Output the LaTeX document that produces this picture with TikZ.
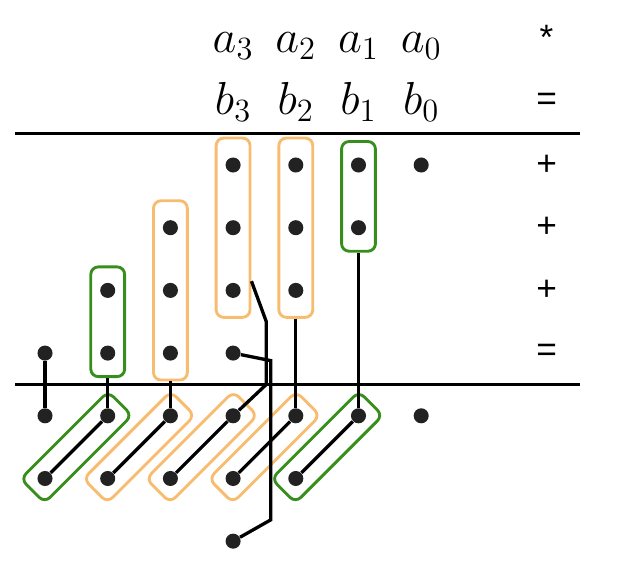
\RequirePackage{fix-cm}
\documentclass[tikz,border=0pt]{standalone}
\usepackage{amsmath}
\usepackage{amssymb}
\usepackage{fontspec}
\usepackage{tikz}

\newfontfamily\opfont{Liberation Sans}
\definecolor{boxgreen}{RGB}{56,142,28}
\definecolor{boxorange}{RGB}{248,188,112}
\definecolor{dotgray}{RGB}{34,34,34}

\begin{document}
\begin{tikzpicture}[
    dot/.style={circle,fill=dotgray,inner sep=0pt,minimum size=0.24cm},
    grp/.style={draw,rounded corners=0.12cm,line width=1.3pt,minimum width=0.54cm,inner sep=0pt},
    ogrp/.style={grp,draw=boxorange},
    ggrp/.style={grp,draw=boxgreen},
    digit/.style={font=\fontsize{21}{25}\selectfont,anchor=base,inner sep=0pt},
    op/.style={font=\opfont\fontsize{16}{18}\selectfont,inner sep=0pt},
    wire/.style={line width=1.5pt}]
    \useasboundingbox (-0.718,-6.316) rectangle (9.187,2.632);
    % operands and operators
    \node[digit] (a3) at (3,1.79) {$a_3$};
    \node[digit] (a2) at (4,1.79) {$a_2$};
    \node[digit] (a1) at (5,1.79) {$a_1$};
    \node[digit] (a0) at (6,1.79) {$a_0$};
    \node[digit] (b3) at (3,0.8) {$b_3$};
    \node[digit] (b2) at (4,0.8) {$b_2$};
    \node[digit] (b1) at (5,0.8) {$b_1$};
    \node[digit] (b0) at (6,0.8) {$b_0$};
    \node[op,anchor=base] (times) at (8,1.84) {*};
    \node[op] (eqtop) at (8,1) {=};
    \node[op] (plus0) at (8,0) {+};
    \node[op] (plus1) at (8,-1) {+};
    \node[op] (plus2) at (8,-2) {+};
    \node[op] (eqbot) at (8,-3) {=};
    \draw[wire] (-0.48,0.5) -- (8.53,0.5);
    \draw[wire] (-0.48,-3.5) -- (8.53,-3.5);
    % groups
    \node[ogrp,minimum height=2.86cm] (box3) at (3,-1) {};
    \node[ogrp,minimum height=2.86cm] (box4) at (4,-1) {};
    \node[ggrp,minimum height=1.75cm] (box5) at (5,-0.5) {};
    \node[ogrp,minimum height=2.86cm] (box2) at (2,-2) {};
    \node[ggrp,minimum height=1.75cm] (box1) at (1,-2.5) {};
    \node[ggrp,minimum height=1.97cm,rotate=-45] (d1) at (0.5,-4.5) {};
    \node[ogrp,minimum height=1.97cm,rotate=-45] (d2) at (1.5,-4.5) {};
    \node[ogrp,minimum height=1.97cm,rotate=-45] (d3) at (2.5,-4.5) {};
    \node[ogrp,minimum height=1.97cm,rotate=-45] (d4) at (3.5,-4.5) {};
    \node[ggrp,minimum height=1.97cm,rotate=-45] (d5) at (4.5,-4.5) {};
    % bits
    \foreach \c/\r in {3/0,4/0,5/0,6/0,2/1,3/1,4/1,5/1,1/2,2/2,3/2,4/2,0/3,1/3,2/3,3/3,
        0/4,1/4,2/4,3/4,4/4,5/4,6/4,0/5,1/5,2/5,3/5,4/5,3/6}
        \node[dot] (p\c\r) at (\c,-\r) {};
    % wires
    \draw[wire] (p03) -- (p04);
    \draw[wire] (box1) -- (p14);
    \draw[wire] (box2) -- (p24);
    \draw[wire] (box4) -- (p44);
    \draw[wire] (box5) -- (p54);
    \draw[wire] (p14) -- (p05);
    \draw[wire] (p24) -- (p15);
    \draw[wire] (p34) -- (p25);
    \draw[wire] (p44) -- (p35);
    \draw[wire] (p54) -- (p45);
    \draw[wire] ([yshift=0.6cm]box3.south east) -- (3.53,-2.5) -- (3.53,-3.5) -- (p34);
    \draw[wire] (p33) -- (3.6,-3.12) -- (3.6,-5.66) -- (p36);
\end{tikzpicture}
\end{document}
